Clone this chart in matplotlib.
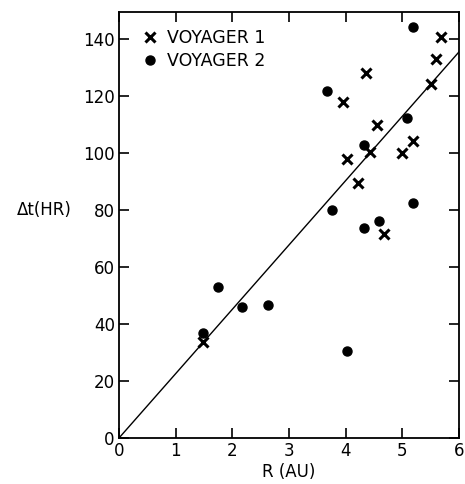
import numpy as np
import matplotlib
matplotlib.use("Agg")
import matplotlib.pyplot as plt

# Voyager 1 (x markers)
v1_r = [5.68, 5.60, 5.50, 4.36, 3.95, 4.56, 5.18, 4.99, 4.43, 4.02, 4.21, 4.68, 1.48]
v1_dt = [140.8, 132.9, 124.1, 128.2, 117.8, 109.8, 104.2, 100.1, 100.5, 97.8, 89.6, 71.5, 33.8]

# Voyager 2 (dots)
v2_r = [5.19, 3.67, 5.09, 4.32, 3.76, 5.18, 4.58, 4.33, 1.75, 2.17, 2.63, 1.48, 4.02]
v2_dt = [144.3, 121.9, 112.2, 103.0, 80.0, 82.3, 76.3, 73.8, 53.1, 46.1, 46.7, 36.9, 30.5]

# fitted line through origin
fit_r = [0, 6]
fit_dt = [0, 135.5]

x_ticks = [0, 1, 2, 3, 4, 5, 6]
y_ticks = [0, 20, 40, 60, 80, 100, 120, 140]

plt.rcParams['font.family'] = ['DejaVu Sans']

fig = plt.figure(figsize=(4.65, 4.84), dpi=100)
ax = fig.add_axes([119/465, 46/484, (459-119)/465, (438-12)/484])

ax.plot(fit_r, fit_dt, color='black', lw=1.0)
ax.plot(v1_r, v1_dt, 'x', color='black', ms=7.5, mew=2.2, label='VOYAGER 1')
ax.plot(v2_r, v2_dt, 'o', color='black', ms=6.5, label='VOYAGER 2')

ax.set_xlim(0, 6)
ax.set_ylim(0, 149.5)
ax.set_xticks(x_ticks)
ax.set_yticks(y_ticks)
ax.tick_params(direction='in', length=7, width=1.2, top=True, right=True,
               labelsize=12, pad=3)
for s in ax.spines.values():
    s.set_linewidth(1.3)

ax.set_xlabel('R (AU)', fontsize=12, labelpad=2)
fig.text(0.095, 0.566, 'Δt(HR)', fontsize=12, ha='center', va='center')

leg = ax.legend(loc='upper left', bbox_to_anchor=(0.025, 0.988), frameon=False,
                fontsize=12.5, handletextpad=0.35, borderaxespad=0.3,
                labelspacing=0.3, handlelength=1.2)

fig.savefig('out.png', dpi=100)
